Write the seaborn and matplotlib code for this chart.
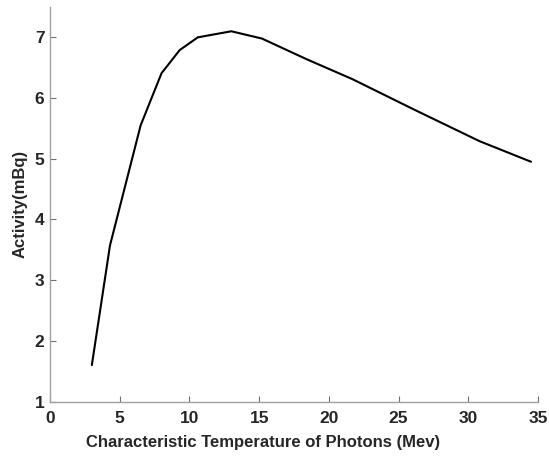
import matplotlib
matplotlib.use("Agg")
import matplotlib.pyplot as plt
import seaborn as sns
import pandas as pd

temperature = [3.0, 4.3, 6.5, 8.0, 9.3, 10.6, 13.0, 15.2, 18.4, 21.7, 26.2, 30.8, 34.5]
activity = [1.6, 3.57, 5.55, 6.41, 6.79, 7.0, 7.1, 6.98, 6.64, 6.31, 5.8, 5.29, 4.95]
x_ticks = [0, 5, 10, 15, 20, 25, 30, 35]
y_ticks = [1, 2, 3, 4, 5, 6, 7]

sns.set_theme(style="white")
plt.rcParams['font.family'] = ['Liberation Sans', 'DejaVu Sans']

df = pd.DataFrame({"T": temperature, "A": activity})

fig = plt.figure(figsize=(5.49, 4.57), dpi=100)
ax = fig.add_axes([0.0911, 0.1214, 0.8889, 0.8633])
sns.lineplot(data=df, x="T", y="A", ax=ax, color="black", linewidth=1.5, sort=False)

ax.set_xlim(0, 35)
ax.set_ylim(1, 7.5)
ax.set_xticks(x_ticks)
ax.set_yticks(y_ticks)
ax.set_xticklabels([str(v) for v in x_ticks], fontweight="bold", fontsize=12.5, color="#262626")
ax.set_yticklabels([str(v) for v in y_ticks], fontweight="bold", fontsize=12.5, color="#262626")
ax.set_xlabel("Characteristic Temperature of Photons (Mev)", fontweight="bold", fontsize=12, color="#262626")
ax.set_ylabel("Activity(mBq)", fontweight="bold", fontsize=12, color="#262626")
ax.xaxis.set_label_coords(0.437, -0.085)
ax.yaxis.set_label_coords(-0.046, 0.5)

for s in ["top", "right"]:
    ax.spines[s].set_visible(False)
for s in ["left", "bottom"]:
    ax.spines[s].set_color("#a0a0a0")
    ax.spines[s].set_linewidth(1.0)
ax.tick_params(axis="both", direction="in", length=4, width=0.8, color="#707070",
               bottom=True, left=True)
ax.tick_params(axis="x", pad=7)
ax.tick_params(axis="y", pad=4)

fig.savefig("out.png", dpi=100)
